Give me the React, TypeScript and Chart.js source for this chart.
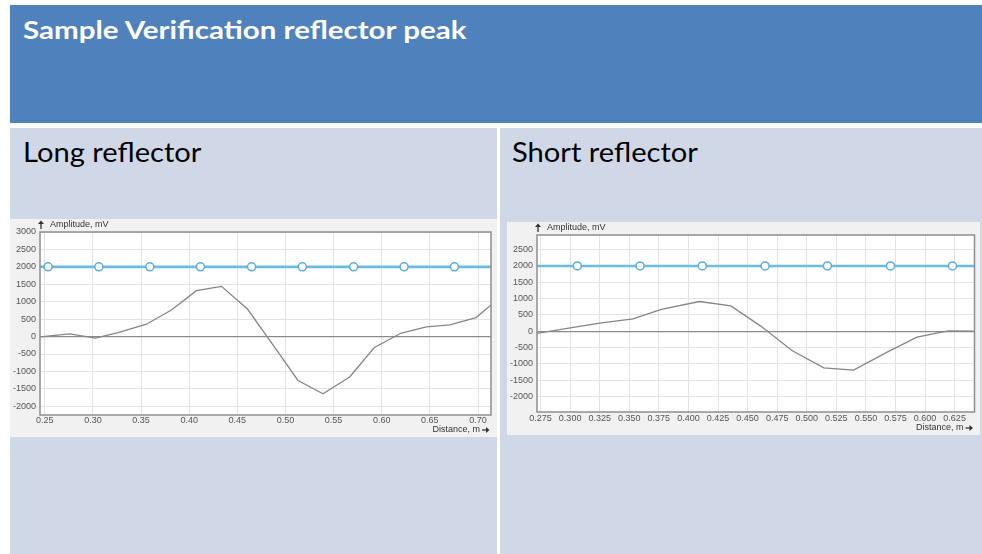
import React, { useEffect, useRef } from 'react';
import { Chart, registerables } from 'chart.js';

Chart.register(...registerables);

const SLIDE_TITLE = 'Sample Verification reflector peak';
const LEFT_TITLE = 'Long reflector';
const RIGHT_TITLE = 'Short reflector';
const Y_AXIS_TITLE = 'Amplitude, mV';
const X_AXIS_TITLE = 'Distance, m';
const THRESHOLD = 2000;

// Long reflector trace
const longDistance = [0.2448, 0.276, 0.3026, 0.326, 0.3556, 0.3815, 0.4075, 0.4335, 0.4605, 0.487, 0.513, 0.539, 0.5667, 0.592, 0.6197, 0.6463, 0.6706, 0.698, 0.7138];
const longAmplitude = [-10, 80, -45, 115, 355, 760, 1315, 1440, 790, -240, -1260, -1640, -1160, -320, 95, 280, 335, 545, 915];
const longMarkers = [0.2534, 0.3061, 0.3591, 0.4117, 0.4648, 0.5175, 0.5708, 0.6232, 0.6755];
const longXTicks = [0.25, 0.3, 0.35, 0.4, 0.45, 0.5, 0.55, 0.6, 0.65, 0.7];
const longYTicks = [-2000, -1500, -1000, -500, 0, 500, 1000, 1500, 2000, 2500, 3000];

// Short reflector trace
const shortDistance = [0.272, 0.3014, 0.3266, 0.3532, 0.3771, 0.4093, 0.4359, 0.4611, 0.4878, 0.5144, 0.5396, 0.5684, 0.5932, 0.6195, 0.6418];
const shortAmplitude = [-70, 110, 255, 380, 665, 910, 775, 155, -600, -1125, -1195, -635, -185, 10, 0];
const shortMarkers = [0.3061, 0.3591, 0.4117, 0.4648, 0.5175, 0.5708, 0.6232];
const shortXTicks = [0.275, 0.3, 0.325, 0.35, 0.375, 0.4, 0.425, 0.45, 0.475, 0.5, 0.525, 0.55, 0.575, 0.6, 0.625];
const shortYTicks = [-2000, -1500, -1000, -500, 0, 500, 1000, 1500, 2000, 2500];

const TICK_FONT = { family: '"Liberation Sans", Arial, sans-serif', size: 9 };

const framePlugin = {
  id: 'frame',
  beforeDraw(chart: any) {
    const { ctx, chartArea: a, width, height } = chart;
    ctx.save();
    ctx.fillStyle = '#f1f1f1';
    ctx.fillRect(0, 0, width, height);
    ctx.fillStyle = '#ffffff';
    ctx.fillRect(a.left, a.top, a.right - a.left, a.bottom - a.top);
    ctx.restore();
  },
  afterDraw(chart: any, _args: any, opts: any) {
    const { ctx, chartArea: a, height } = chart;
    ctx.save();
    ctx.strokeStyle = '#8e8e8e';
    ctx.lineWidth = 1.5;
    ctx.strokeRect(a.left, a.top, a.right - a.left, a.bottom - a.top);

    ctx.fillStyle = '#333';
    ctx.strokeStyle = '#333';
    ctx.font = '9px "Liberation Sans", Arial, sans-serif';
    ctx.textBaseline = 'middle';
    // y title with up arrow
    const ty = a.top - 7;
    const ax = a.left + 1;
    ctx.lineWidth = 1.3;
    ctx.beginPath();
    ctx.moveTo(ax, ty + 4);
    ctx.lineTo(ax, ty - 2);
    ctx.stroke();
    ctx.beginPath();
    ctx.moveTo(ax - 3, ty - 1);
    ctx.lineTo(ax, ty - 4.5);
    ctx.lineTo(ax + 3, ty - 1);
    ctx.closePath();
    ctx.fill();
    ctx.textAlign = 'left';
    ctx.fillText(opts.yTitle, a.left + 10, ty);

    // x title with right arrow
    const by = height - 7;
    const rx = a.right - 2;
    ctx.beginPath();
    ctx.moveTo(rx - 7, by);
    ctx.lineTo(rx - 2, by);
    ctx.stroke();
    ctx.beginPath();
    ctx.moveTo(rx - 3, by - 3);
    ctx.lineTo(rx + 0.5, by);
    ctx.lineTo(rx - 3, by + 3);
    ctx.closePath();
    ctx.fill();
    ctx.textAlign = 'right';
    ctx.fillText(opts.xTitle, a.right - 11, by);
    ctx.restore();
  },
};

type PanelProps = {
  distance: number[];
  amplitude: number[];
  markers: number[];
  xTicks: number[];
  yTicks: number[];
  xMin: number;
  xMax: number;
  xDecimals: number;
  yMin: number;
  yMax: number;
  width: number;
  height: number;
  padTop: number;
  padRight: number;
  yAxisWidth: number;
  xAxisHeight: number;
  xLabelPad: number;
  style: React.CSSProperties;
};

function ReflectorChart(p: PanelProps) {
  const ref = useRef<HTMLCanvasElement | null>(null);
  useEffect(() => {
    if (!ref.current) return;
    const trace = p.distance.map((x, i) => ({ x, y: p.amplitude[i] }));
    const thresholdLine = [
      { x: p.xMin, y: THRESHOLD },
      { x: p.xMax, y: THRESHOLD },
    ];
    const markerPts = p.markers.map((x) => ({ x, y: THRESHOLD }));
    const chart = new Chart(ref.current, {
      type: 'line',
      data: {
        datasets: [
          {
            data: trace,
            borderColor: '#858585',
            borderWidth: 1.3,
            pointRadius: 0,
            tension: 0,
            order: 3,
          },
          {
            data: thresholdLine,
            borderColor: '#6cbbe0',
            borderWidth: 2.6,
            pointRadius: 0,
            order: 2,
          },
          {
            data: markerPts,
            showLine: false,
            pointRadius: 4,
            pointBackgroundColor: '#ffffff',
            pointBorderColor: '#5aaed8',
            pointBorderWidth: 1.5,
            order: 1,
          },
        ],
      },
      options: {
        responsive: false,
        animation: false,
        devicePixelRatio: 1,
        layout: { padding: { top: p.padTop, right: p.padRight, left: 0, bottom: 0 } },
        plugins: {
          legend: { display: false },
          tooltip: { enabled: false },
          frame: { yTitle: Y_AXIS_TITLE, xTitle: X_AXIS_TITLE },
        } as any,
        scales: {
          x: {
            type: 'linear',
            min: p.xMin,
            max: p.xMax,
            afterFit: (s: any) => {
              s.height = p.xAxisHeight;
            },
            afterBuildTicks: (s: any) => {
              s.ticks = p.xTicks.map((v) => ({ value: v }));
            },
            ticks: {
              autoSkip: false,
              maxRotation: 0,
              padding: p.xLabelPad,
              color: '#555',
              font: TICK_FONT,
              callback: (v: any) => Number(v).toFixed(p.xDecimals),
            },
            grid: { color: '#e3e3e3', drawTicks: false },
            border: { display: false },
          },
          y: {
            type: 'linear',
            min: p.yMin,
            max: p.yMax,
            afterFit: (s: any) => {
              s.width = p.yAxisWidth;
            },
            afterBuildTicks: (s: any) => {
              s.ticks = p.yTicks.map((v) => ({ value: v }));
            },
            ticks: {
              autoSkip: false,
              padding: 4,
              color: '#555',
              font: TICK_FONT,
              callback: (v: any) => String(v),
            },
            grid: {
              color: (c: any) => (c.tick && c.tick.value === 0 ? '#8a8a8a' : '#e3e3e3'),
              lineWidth: (c: any) => (c.tick && c.tick.value === 0 ? 1.2 : 1),
              drawTicks: false,
            },
            border: { display: false },
          },
        },
      } as any,
      plugins: [framePlugin],
    });
    return () => chart.destroy();
  }, []);
  return (
    <div style={{ position: 'absolute', ...p.style }}>
      <canvas ref={ref} width={p.width} height={p.height} style={{ display: 'block', width: p.width, height: p.height }} />
    </div>
  );
}

const headFont = 'Lato, "Open Sans", sans-serif';

const subTitleStyle: React.CSSProperties = {
  position: 'absolute',
  top: 136,
  color: '#000',
  fontFamily: headFont,
  fontSize: 26,
  lineHeight: '32px',
  whiteSpace: 'nowrap',
  transform: 'scaleX(1.12)',
  transformOrigin: 'left center',
};

export default function App() {
  return (
    <div style={{ position: 'absolute', left: 0, top: 0, width: 982, height: 554, background: '#ffffff', overflow: 'hidden' }}>
      <div style={{ position: 'absolute', left: 10, top: 5, width: 972, height: 118, background: '#4f81bd' }} />
      <div
        style={{
          position: 'absolute',
          left: 23,
          top: 17,
          color: '#ffffff',
          fontFamily: headFont,
          fontWeight: 700,
          fontSize: 24,
          lineHeight: '26px',
          whiteSpace: 'nowrap',
          transform: 'scaleX(1.23)',
          transformOrigin: 'left center',
        }}
      >
        {SLIDE_TITLE}
      </div>
      <div style={{ position: 'absolute', left: 10, top: 128, width: 487, height: 426, background: '#d0d8e8' }} />
      <div style={{ position: 'absolute', left: 500, top: 128, width: 482, height: 426, background: '#d0d8e8' }} />
      <div style={{ ...subTitleStyle, left: 23 }}>{LEFT_TITLE}</div>
      <div style={{ ...subTitleStyle, left: 512 }}>{RIGHT_TITLE}</div>
      <ReflectorChart
        distance={longDistance}
        amplitude={longAmplitude}
        markers={longMarkers}
        xTicks={longXTicks}
        yTicks={longYTicks}
        xMin={0.245}
        xMax={0.7135}
        xDecimals={2}
        yMin={-2250}
        yMax={3000}
        width={487}
        height={218}
        padTop={13}
        padRight={6}
        yAxisWidth={30}
        xAxisHeight={22}
        xLabelPad={0}
        style={{ left: 10, top: 219 }}
      />
      <ReflectorChart
        distance={shortDistance}
        amplitude={shortAmplitude}
        markers={shortMarkers}
        xTicks={shortXTicks}
        yTicks={shortYTicks}
        xMin={0.272}
        xMax={0.6418}
        xDecimals={3}
        yMin={-2480}
        yMax={2950}
        width={473}
        height={213}
        padTop={13}
        padRight={3}
        yAxisWidth={30}
        xAxisHeight={23}
        xLabelPad={1}
        style={{ left: 507, top: 222 }}
      />
    </div>
  );
}
